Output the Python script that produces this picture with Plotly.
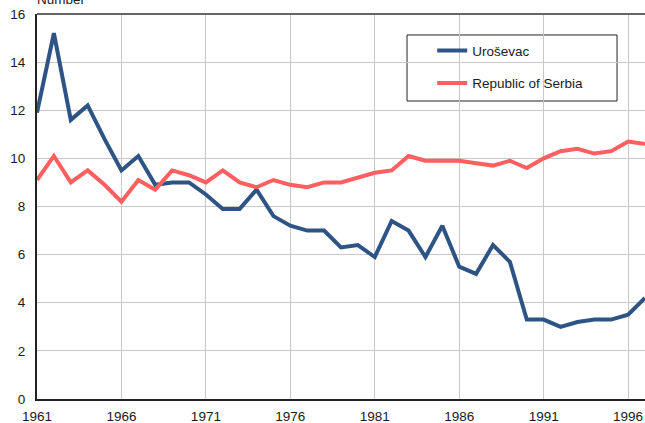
import plotly.graph_objects as go

years = list(range(1961, 1998))
urosevac = [11.9, 15.2, 11.6, 12.2, 10.8, 9.5, 10.1, 8.9, 9.0, 9.0,
            8.5, 7.9, 7.9, 8.7, 7.6, 7.2, 7.0, 7.0, 6.3, 6.4,
            5.9, 7.4, 7.0, 5.9, 7.2, 5.5, 5.2, 6.4, 5.7, 3.3,
            3.3, 3.0, 3.2, 3.3, 3.3, 3.5, 4.2]
serbia = [9.1, 10.1, 9.0, 9.5, 8.9, 8.2, 9.1, 8.7, 9.5, 9.3,
          9.0, 9.5, 9.0, 8.8, 9.1, 8.9, 8.8, 9.0, 9.0, 9.2,
          9.4, 9.5, 10.1, 9.9, 9.9, 9.9, 9.8, 9.7, 9.9, 9.6,
          10.0, 10.3, 10.4, 10.2, 10.3, 10.7, 10.6]
x_ticks = [1961, 1966, 1971, 1976, 1981, 1986, 1991, 1996]
y_ticks = [0, 2, 4, 6, 8, 10, 12, 14, 16]

FONT = "Liberation Sans"

fig = go.Figure()
fig.add_trace(go.Scatter(x=years, y=urosevac, mode="lines", name="Uroševac",
                         legendgroup="a",
                         line=dict(color="#2e5486", width=4)))
fig.add_trace(go.Scatter(x=years, y=serbia, mode="lines", name="Republic of Serbia",
                         legendgroup="b",
                         line=dict(color="#ff5f5f", width=4)))

fig.update_layout(
    width=645, height=423,
    margin=dict(l=37, r=0, t=14, b=24, autoexpand=False),
    paper_bgcolor="white", plot_bgcolor="white",
    font=dict(family=FONT, size=13, color="#1a1a1a"),
    showlegend=True,
    legend=dict(x=0.65, y=0.945, xanchor="left", yanchor="top",
                bgcolor="rgba(0,0,0,0)", borderwidth=0,
                tracegroupgap=12, font=dict(family=FONT, size=13.5, color="#1a1a1a")),
    xaxis=dict(range=[1961, 1997], tickmode="array", tickvals=x_ticks,
               showgrid=True, gridcolor="#c8c8c8", gridwidth=1,
               showline=True, linecolor="#222222", linewidth=2,
               ticks="", zeroline=False, automargin=False,
               ticklabelstandoff=4,
               tickfont=dict(family=FONT, size=13.5)),
    yaxis=dict(range=[0, 16], tickmode="array", tickvals=y_ticks,
               showgrid=True, gridcolor="#c8c8c8", gridwidth=1,
               showline=True, linecolor="#222222", linewidth=2,
               ticks="", zeroline=False, automargin=False,
               ticklabelstandoff=7,
               tickfont=dict(family=FONT, size=13.5)),
    shapes=[
        dict(type="line", xref="paper", yref="paper", x0=0, x1=1, y0=1, y1=1,
             line=dict(color="#666666", width=2)),
        dict(type="rect", xref="paper", yref="paper",
             x0=0.6086, x1=0.954, y0=0.774, y1=0.9455,
             line=dict(color="#222222", width=1), fillcolor="white", layer="below"),
    ],
    annotations=[
        dict(text="Number", xref="paper", yref="paper", x=0, y=1,
             xanchor="left", yanchor="bottom", xshift=-2, yshift=5,
             showarrow=False, font=dict(family=FONT, size=13.5, color="#1a1a1a")),
    ],
)

fig.write_html("out.html", config={"displayModeBar": False},
               post_script="document.body.style.margin='0';")
